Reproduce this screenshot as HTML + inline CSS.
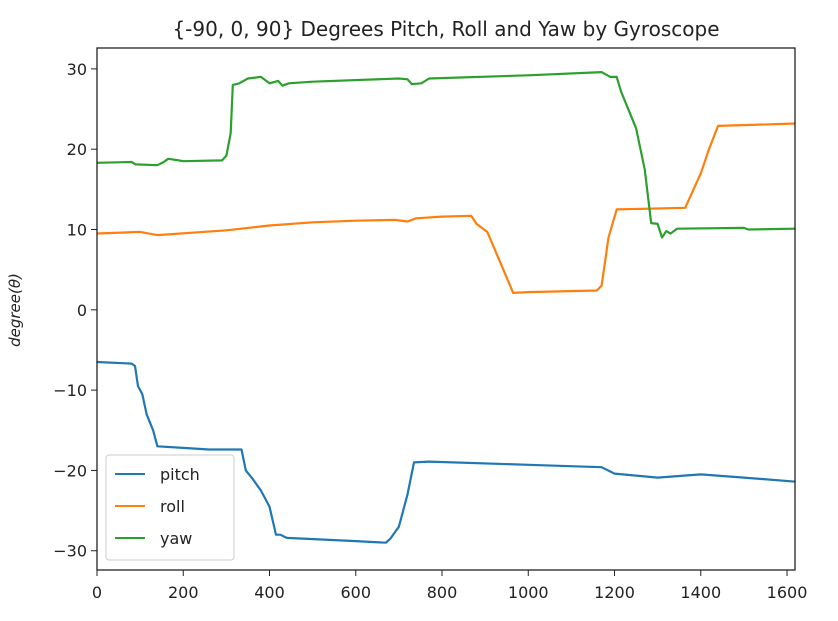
<!DOCTYPE html>
<html><head><meta charset="utf-8"><style>
body{margin:0;background:#fff;}
svg text{font-family:"DejaVu Sans","Liberation Sans",sans-serif;fill:#222;}
</style></head><body>
<svg id="chart" width="838" height="616">
<text x="446" y="36" font-size="20" text-anchor="middle">{-90, 0, 90} Degrees Pitch, Roll and Yaw by Gyroscope</text>
<g id="axes"></g>
<g id="series"></g>
<rect x="97" y="48" width="698" height="522" fill="none" stroke="#222" stroke-width="1.3"/>
<text transform="translate(20,310) rotate(-90)" font-size="15" font-style="italic" text-anchor="middle">degree(θ)</text>
<g>
<rect x="106" y="455" width="128" height="105" rx="3" fill="#fff" fill-opacity="0.8" stroke="#ccc"/>
<line x1="115" y1="474" x2="145" y2="474" stroke="#1f77b4" stroke-width="2"/>
<text x="160" y="480" font-size="16">pitch</text>
<line x1="115" y1="506" x2="145" y2="506" stroke="#ff7f0e" stroke-width="2"/>
<text x="160" y="512" font-size="16">roll</text>
<line x1="115" y1="538" x2="145" y2="538" stroke="#2ca02c" stroke-width="2"/>
<text x="160" y="544" font-size="16">yaw</text>
</g>
</svg>
<script>
const xTicks=[0,200,400,600,800,1000,1200,1400,1600];
const yTicks=[-30,-20,-10,0,10,20,30];
const pitchX=[0,80,88,95,105,115,130,140,200,260,335,345,360,380,400,415,425,440,600,670,680,700,720,735,770,1000,1170,1200,1300,1400,1500,1620];
const pitchY=[-6.5,-6.7,-7,-9.5,-10.5,-13,-15,-17,-17.2,-17.4,-17.4,-20,-21,-22.5,-24.5,-28,-28,-28.4,-28.8,-29,-28.5,-27,-23,-19,-18.9,-19.3,-19.6,-20.4,-20.9,-20.5,-20.9,-21.4];
const rollX=[0,100,140,300,400,500,600,690,720,740,800,868,880,905,942,965,1000,1159,1170,1186,1205,1364,1400,1419,1440,1620];
const rollY=[9.5,9.7,9.3,9.9,10.5,10.9,11.1,11.2,11.0,11.4,11.6,11.7,10.7,9.7,5,2.1,2.2,2.4,3,9,12.5,12.7,17,20,22.9,23.2];
const yawX=[0,80,90,140,155,165,190,200,290,300,310,315,330,350,380,400,420,430,445,500,700,720,730,752,770,1000,1170,1190,1205,1215,1250,1270,1285,1300,1310,1320,1330,1345,1500,1510,1620];
const yawY=[18.3,18.4,18.1,18,18.4,18.8,18.6,18.5,18.6,19.2,22,28,28.2,28.8,29,28.2,28.5,27.9,28.2,28.4,28.8,28.7,28.1,28.2,28.8,29.2,29.6,29,29,27.2,22.6,17.5,10.8,10.7,9,9.8,9.5,10.1,10.2,10,10.1];
const NS="http://www.w3.org/2000/svg";
const X0=97,X1=795,XMIN=0,XMAX=1618.5,Y0=570,Y1=48,YMIN=-32.4,YMAX=32.6;
function xs(v){return X0+(v-XMIN)/(XMAX-XMIN)*(X1-X0);}
function ys(v){return Y0-(v-YMIN)/(YMAX-YMIN)*(Y0-Y1);}
const axes=document.getElementById('axes'),series=document.getElementById('series');
function mk(t,a,p){const e=document.createElementNS(NS,t);for(const k in a)e.setAttribute(k,a[k]);p.appendChild(e);return e;}
xTicks.forEach(v=>{
 const l=mk('line',{x1:xs(v),x2:xs(v),y1:570,y2:576,stroke:'#222'},axes);
 
 
 const t=mk('text',{x:xs(v),y:598,'font-size':16,'text-anchor':'middle'},axes);t.textContent=v;
 
 
});
yTicks.forEach(v=>{
 const l=mk('line',{x1:91,x2:97,y1:ys(v),y2:ys(v),stroke:'#222'},axes);
 
 
 const t=mk('text',{x:87,y:ys(v)+6,'font-size':16,'text-anchor':'end'},axes);t.textContent=(v<0?'\u2212'+(-v):v);
 
 
});
function line(xa,ya,c,name){
 const d=xa.map((x,i)=>(i?'L':'M')+xs(x).toFixed(1)+','+ys(ya[i]).toFixed(1)).join('');
 const p=mk('path',{d:d,fill:'none',stroke:c,'stroke-width':2.2,'stroke-linejoin':'round'},series);
 
 
}
line(pitchX,pitchY,'#1f77b4','pitch-line');
line(rollX,rollY,'#ff7f0e','roll-line');
line(yawX,yawY,'#2ca02c','yaw-line');
</script>
</body></html>
